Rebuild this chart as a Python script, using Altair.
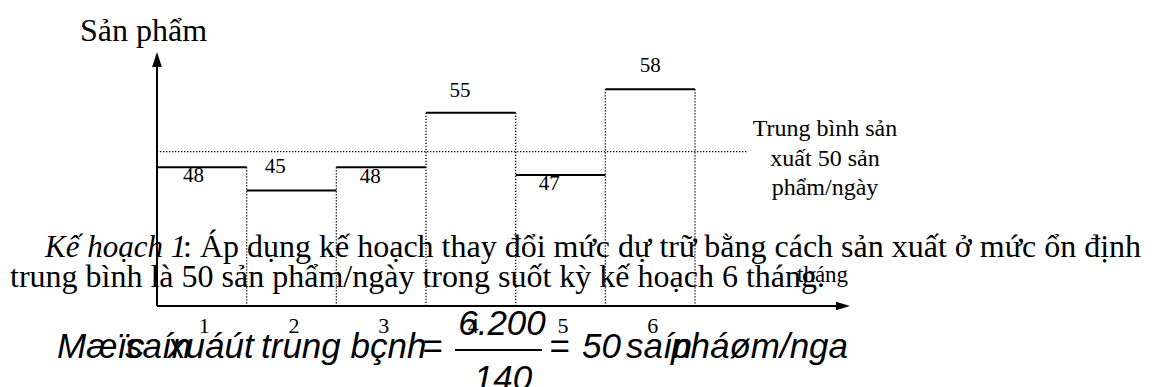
import altair as alt
import pandas as pd

# ---------------- data ----------------
months = [1, 2, 3, 4, 5, 6]
production = [48, 45, 48, 55, 47, 58]
average = 50
tick_labels = ["1", "2", "3", "4", "5", "6"]
value_labels = ["48", "45", "48", "55", "47", "58"]
y_title = "Sản phẩm"
x_title = "tháng"
avg_note = ["Trung bình sản", "xuất 50 sản", "phẩm/ngày"]
para1_italic = "Kế hoạch 1"
para1_rest = ": Áp dụng kế hoạch thay đổi mức dự trữ bằng cách sản xuất ở mức ổn định"
para2 = "trung bình là 50 sản phẩm/ngày trong suốt kỳ kế hoạch 6 tháng."
formula_left = ["Mæïc", "saín", "xuáút", "trung bçnh"]
formula_num = "6.200"
formula_den = "140"
formula_right = ["50", "saín", "pháøm/ngaìy"]

# ---------------- layout ----------------
W, H = 1141, 379
M = 8
PX_X = 89.67          # px per month
X0 = 157 - M          # plot px of month boundary 0
PX_Y = 7.785          # px per product unit
Y45 = 190.5 - M       # plot px of value 45


def xu(px):  # page px -> x units
    return (px - M - X0) / PX_X


def yu(py):  # page px -> y units
    return 45 + (Y45 - (py - M)) / PX_Y


xscale = alt.Scale(domain=[xu(M), xu(M + W)], nice=False, zero=False)
yscale = alt.Scale(domain=[yu(M + H), yu(M)], nice=False, zero=False)
X = lambda f: alt.X(f, scale=xscale, axis=None)
Y = lambda f: alt.Y(f, scale=yscale, axis=None)

SERIF = "Liberation Serif"
SANS = "Liberation Sans"
AXIS_Y = yu(306)

# step segments
steps = pd.DataFrame({"x": [m - 1 for m in months], "x2": months, "y": production})
step_layer = alt.Chart(steps).mark_rule(color="black", strokeWidth=2).encode(
    x=X("x:Q"), x2="x2:Q", y=Y("y:Q"))

# dotted boundaries
tops = [max(production[i], production[i + 1]) if i + 1 < len(production) else production[i]
        for i in range(len(production))]
bounds = pd.DataFrame({"x": months, "top": tops, "bottom": [AXIS_Y] * len(months)})
bound_layer = alt.Chart(bounds).mark_rule(color="black", strokeWidth=1.3, strokeDash=[1.3, 1.7]).encode(
    x=X("x:Q"), y=Y("top:Q"), y2="bottom:Q")

# average line
avg_df = pd.DataFrame({"x": [0], "x2": [xu(747)], "y": [average]})
avg_layer = alt.Chart(avg_df).mark_rule(color="black", strokeWidth=1.3, strokeDash=[1.3, 1.7]).encode(
    x=X("x:Q"), x2="x2:Q", y=Y("y:Q"))

# axes
yaxis_df = pd.DataFrame({"x": [0], "y": [AXIS_Y], "y2": [yu(62)]})
yaxis_layer = alt.Chart(yaxis_df).mark_rule(color="black", strokeWidth=2).encode(
    x=X("x:Q"), y=Y("y:Q"), y2="y2:Q")
yarrow = alt.Chart(pd.DataFrame({"x": [0], "y": [yu(59.5)]})).mark_point(
    shape="M-0.65,1L0.65,1L0,-1Z", size=225, filled=True, color="black", opacity=1).encode(
    x=X("x:Q"), y=Y("y:Q"))
xaxis_df = pd.DataFrame({"x": [0], "x2": [xu(838)], "y": [AXIS_Y]})
xaxis_layer = alt.Chart(xaxis_df).mark_rule(color="black", strokeWidth=2).encode(
    x=X("x:Q"), x2="x2:Q", y=Y("y:Q"))
xarrow = alt.Chart(pd.DataFrame({"x": [xu(843)], "y": [AXIS_Y]})).mark_point(
    shape="M-1,-0.6L-1,0.6L1,0Z", size=196, filled=True, color="black", opacity=1).encode(
    x=X("x:Q"), y=Y("y:Q"))

# value labels
label_dx_px = [36.5, 28.5, 34, 34, 33.5, 45]
label_dy_px = [15, -17.5, 16, -15.6, 15, -17.3]
lab = pd.DataFrame({
    "x": [m - 1 + d / PX_X for m, d in zip(months, label_dx_px)],
    "y": [v - d / PX_Y for v, d in zip(production, label_dy_px)],
    "t": value_labels})
label_layer = alt.Chart(lab).mark_text(font=SERIF, fontSize=21, color="black", align="center",
                                       baseline="alphabetic").encode(x=X("x:Q"), y=Y("y:Q"), text="t:N")

# tick labels
ticks = pd.DataFrame({"x": [m - 0.5 + 2.5 / PX_X for m in months], "y": [yu(333)] * 6, "t": tick_labels})
tick_layer = alt.Chart(ticks).mark_text(font=SERIF, fontSize=22, color="black", align="center",
                                        baseline="alphabetic").encode(x=X("x:Q"), y=Y("y:Q"), text="t:N")


def txt(text, px, py, size, font=SERIF, style="normal", align="left", **kw):
    return alt.Chart(pd.DataFrame({"t": [text]})).mark_text(
        font=font, fontSize=size, fontStyle=style, align=align, baseline="alphabetic",
        color="black", **kw).encode(x=alt.value(px - M), y=alt.value(py - M), text="t:N")


texts = [
    txt(y_title, 143.5, 41, 32, align="center"),
    txt(avg_note[0], 825, 136, 24, align="center"),
    txt(avg_note[1], 825, 166, 24, align="center"),
    txt(avg_note[2], 825, 195, 24, align="center"),
    txt(para1_italic, 45, 257, 31, style="italic"),
    txt(para1_rest, 183, 257, 32),
    txt(para2, 10, 287, 32),
    txt(x_title, 797, 282, 23),
    # formula
    txt(formula_left[0], 57, 358, 35, font=SANS, style="italic"),
    txt(formula_left[1], 125, 358, 35, font=SANS, style="italic"),
    txt(formula_left[2], 168, 358, 35, font=SANS, style="italic"),
    txt(formula_left[3], 261, 358, 35, font=SANS, style="italic"),
    txt("=", 422, 358, 35, font=SANS, style="italic"),
    txt(formula_num, 502, 335, 35, font=SANS, style="italic", align="center"),
    txt(formula_den, 503, 390, 35, font=SANS, style="italic", align="center"),
    txt("=", 549, 358, 35, font=SANS, style="italic"),
    txt(formula_right[0], 582, 358, 35, font=SANS, style="italic"),
    txt(formula_right[1], 626, 358, 35, font=SANS, style="italic"),
    txt(formula_right[2], 671, 358, 35, font=SANS, style="italic", limit=180, ellipsis="\u200b"),
]

bar = alt.Chart(pd.DataFrame({"a": [0]})).mark_rule(color="black", strokeWidth=2).encode(
    x=alt.value(455 - M), x2=alt.value(542 - M), y=alt.value(350 - M))

chart = alt.layer(
    avg_layer, bound_layer, step_layer, yaxis_layer, yarrow, xaxis_layer, xarrow,
    label_layer, tick_layer, bar, *texts
).properties(
    width=W, height=H, padding=0, autosize=alt.AutoSizeParams(type="none"), background="white"
).configure_view(stroke=None)

chart.save("out.html", embed_options={"renderer": "svg", "actions": False})
